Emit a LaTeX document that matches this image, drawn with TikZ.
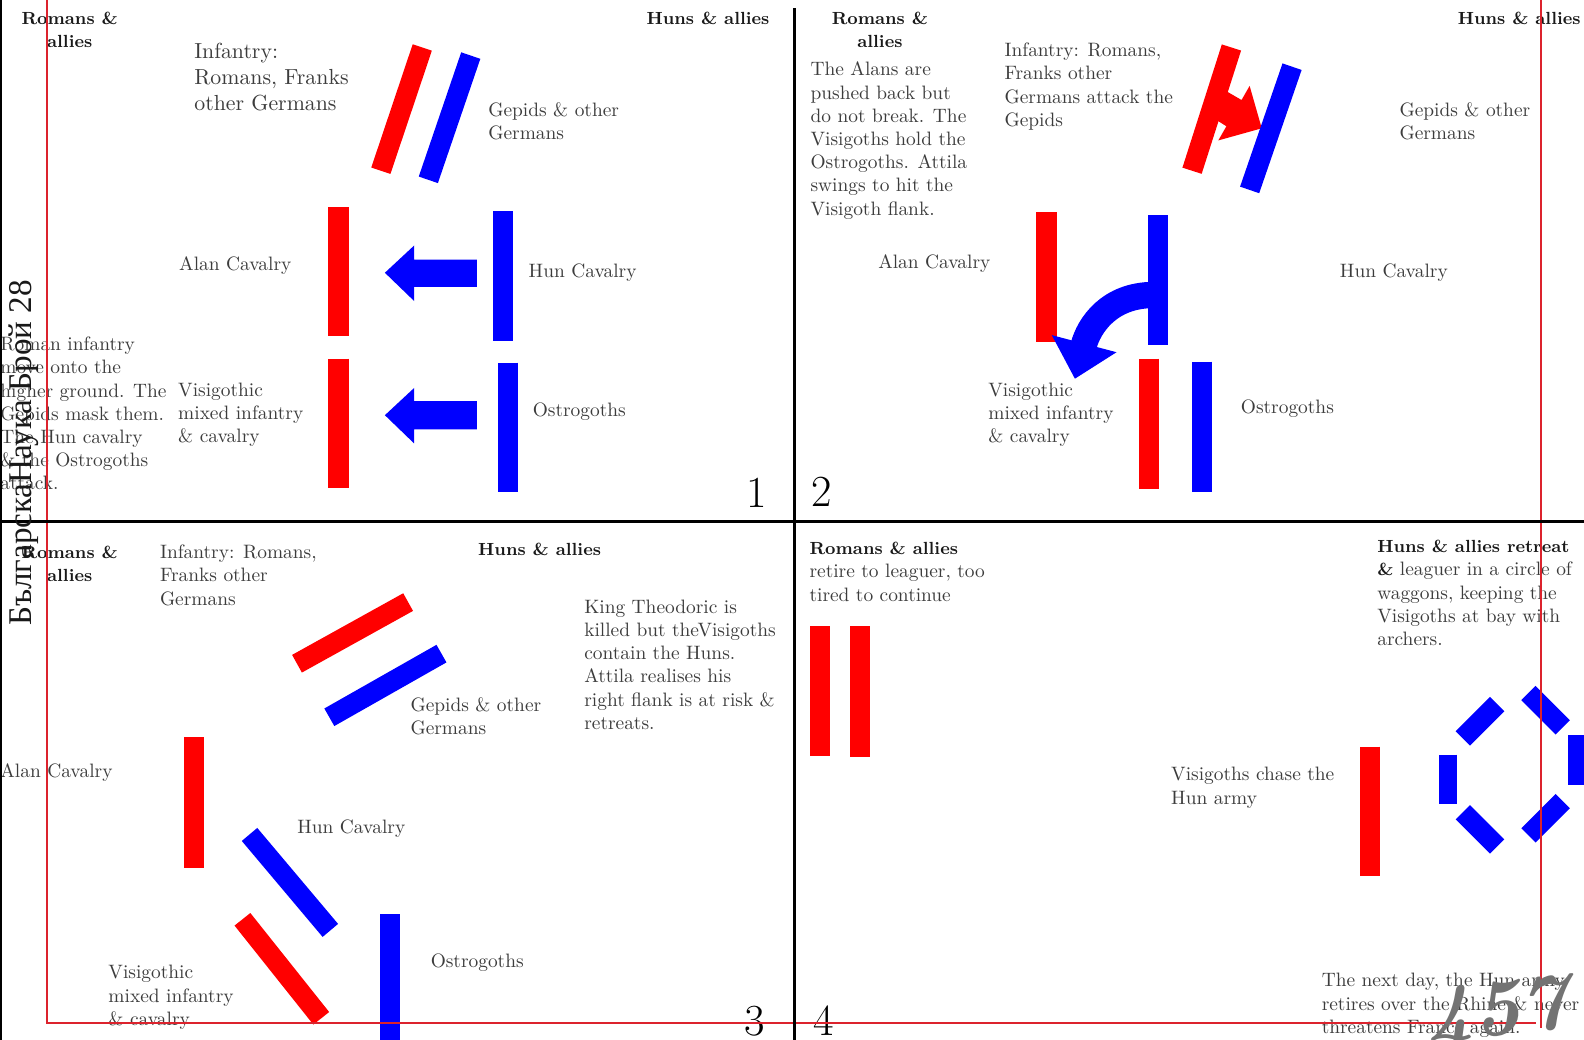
\documentclass[tikz,border=0pt]{standalone}
\usepackage{fontspec}
\newfontfamily\cyrfont{Liberation Serif}
\usetikzlibrary{arrows.meta}
\definecolor{bred}{RGB}{255,0,0}
\definecolor{bblue}{RGB}{0,0,255}
\definecolor{framered}{RGB}{220,35,45}
\definecolor{txt}{RGB}{60,60,60}
\definecolor{btxt}{RGB}{25,25,25}
\newcommand{\tl}[1]{\begin{tabular}[t]{@{}l@{}}#1\end{tabular}}
\newcommand{\tcc}[1]{\begin{tabular}[t]{@{}c@{}}#1\end{tabular}}
\newcommand{\bt}[1]{{\fontsize{8.7}{11.5}\selectfont\bfseries\color{btxt}#1}}
\tikzset{
  barline/.style={line width=10pt},
  redbar/.style={barline, draw=bred},
  bluebar/.style={barline, draw=bblue},
  lbl/.style={inner sep=0pt, anchor=base west, text=txt, font=\fontsize{9.6}{11.5}\selectfont},
  biglbl/.style={lbl, font=\fontsize{10.8}{12.75}\selectfont},
  blbl/.style={inner sep=0pt, text=btxt, font=\fontsize{8.7}{11.5}\selectfont\bfseries},
  bignum/.style={inner sep=0pt, text=black, font=\fontsize{22}{22}\selectfont},
  framered/.style={draw=framered, line width=1pt},
  divider/.style={draw=black, line width=1.5pt},
}
\begin{document}
\begin{tikzpicture}[x=0.5pt,y=-0.5pt]
\clip (0,0) rectangle (1568,1029);
\fill[white] (0,0) rectangle (1568,1029);

% ---------------- Panel 1 ----------------
\draw[redbar]  (418,47) -- (377,169);
\draw[bluebar] (466,55) -- (424,178);
\draw[redbar]  (335,205) -- (335,333);
\draw[bluebar] (498,209) -- (498,338);
\draw[redbar]  (335,355) -- (335,483);
\draw[bluebar] (503,359) -- (503,487);
\fill[bblue] (381,270) -- (410,243) -- (410,257) -- (472,257) -- (472,284) -- (410,284) -- (410,298) -- cycle;
\fill[bblue] (381,411) -- (410,384) -- (410,397) -- (472,397) -- (472,425) -- (410,425) -- (410,439) -- cycle;

\node[blbl, anchor=base] (p1ra) at (69,24) {\tcc{Romans \&\\allies}};
\node[blbl, anchor=base east] (p1ha) at (762,24) {Huns \& allies};
\node[biglbl] (p1inf) at (192,58) {\tl{Infantry:\\Romans, Franks\\other Germans}};
\node[lbl] (p1gep) at (483,115) {\tl{Gepids \& other\\Germans}};
\node[lbl] (p1alan) at (177,268) {Alan Cavalry};
\node[lbl] (p1hun) at (523,275) {Hun Cavalry};
\node[lbl] (p1vis) at (176,392) {\tl{Visigothic\\mixed infantry\\\& cavalry}};
\node[lbl] (p1ost) at (527,412) {Ostrogoths};
\node[lbl] (p1note) at (0,347) {\tl{Roman infantry\\move onto the\\higher ground. The\\Gepids mask them.\\The Hun cavalry\\\& the Ostrogoths\\attack.}};
\node[bignum, anchor=base east] (n1) at (760,502) {1};

% ---------------- Panel 2 ----------------
\fill[bred] (1195,113) -- (1214,125) -- (1206,139) -- (1249,127) -- (1237,85) -- (1229,99) -- (1210,88) -- cycle;
\draw[redbar]  (1219,47) -- (1180,169);
\draw[bluebar] (1279,66) -- (1237,188);
\draw[redbar]  (1036,210) -- (1036,339);
\draw[bblue, line width=13pt, -{Triangle[length=18pt,width=32pt]}] (1142,292) .. controls (1098,292) and (1078,322) .. (1064,375);
\draw[bluebar] (1146,213) -- (1146,342);
\draw[redbar]  (1137,355) -- (1137,484);
\draw[bluebar] (1190,358) -- (1190,487);

\node[blbl, anchor=base] (p2ra) at (871,24) {\tcc{Romans \&\\allies}};
\node[blbl, anchor=base east] (p2ha) at (1565,24) {Huns \& allies};
\node[lbl] (p2note) at (802,75) {\tl{The Alans are\\pushed back but\\do not break. The\\Visigoths hold the\\Ostrogoths. Attila\\swings to hit the\\Visigoth flank.}};
\node[lbl] (p2inf) at (994,56) {\tl{Infantry: Romans,\\Franks other\\Germans attack the\\Gepids}};
\node[lbl] (p2gep) at (1385,115) {\tl{Gepids \& other\\Germans}};
\node[lbl] (p2alan) at (869,266) {Alan Cavalry};
\node[lbl] (p2hun) at (1326,275) {Hun Cavalry};
\node[lbl] (p2vis) at (978,392) {\tl{Visigothic\\mixed infantry\\\& cavalry}};
\node[lbl] (p2ost) at (1228,409) {Ostrogoths};
\node[bignum, anchor=base west] (n2) at (803,501) {2};

% ---------------- Panel 3 ----------------
\draw[redbar]  (294,657) -- (404,596);
\draw[bluebar] (326,710) -- (437,647);
\draw[redbar]  (192,730) -- (192,859);
\draw[bluebar] (247,826) -- (327,921);
\draw[redbar]  (240,910) -- (318,1008);
\draw[bluebar] (386,905) -- (386,1035);

\node[blbl, anchor=base] (p3ra) at (69,553) {\tcc{Romans \&\\allies}};
\node[lbl] (p3inf) at (158,553) {\tl{Infantry: Romans,\\Franks other\\Germans}};
\node[blbl, anchor=base west] (p3ha) at (473,550) {Huns \& allies};
\node[lbl] (p3gep) at (406,704) {\tl{Gepids \& other\\Germans}};
\node[lbl] (p3note) at (578,607) {\tl{King Theodoric is\\killed but theVisigoths\\contain the Huns.\\Attila realises his\\right flank is at risk \&\\retreats.}};
\node[lbl] (p3alan) at (0,770) {Alan Cavalry};
\node[lbl] (p3hun) at (294,825) {Hun Cavalry};
\node[lbl] (p3ost) at (426,958) {Ostrogoths};
\node[lbl] (p3vis) at (107,969) {\tl{Visigothic\\mixed infantry\\\& cavalry}};
\node[bignum, anchor=base east] (n3) at (758,1025) {3};

% ---------------- Panel 4 ----------------
\draw[redbar] (812,620) -- (812,748);
\draw[redbar] (851,620) -- (851,749);
\draw[redbar] (1356,739) -- (1356,867);
\draw[bluebar] (1448,731) -- (1482,697);
\draw[bluebar] (1513,686) -- (1547,720);
\draw[bluebar] (1562,728) -- (1562,777);
\draw[bblue, line width=9pt] (1433,747) -- (1433,796);
\draw[bluebar] (1448,804) -- (1482,838);
\draw[bluebar] (1513,827) -- (1547,793);

\node[lbl] (p4ro) at (801,549) {\tl{\bt{Romans \& allies}\\retire to leaguer, too\\tired to continue}};
\node[lbl] (p4hu) at (1363,547) {\tl{\bt{Huns \& allies retreat}\\\bt{\&} leaguer in a circle of\\waggons, keeping the\\Visigoths at bay with\\archers.}};
\node[lbl] (p4vis) at (1159,773) {\tl{Visigoths chase the\\Hun army}};
\node[lbl] (p4next) at (1308,977) {\tl{The next day, the Hun army\\retires over the Rhine \& never\\threatens France again.}};
\node[bignum, anchor=base west] (n4) at (805,1025) {4};

% ---------------- frame lines ----------------
\draw[framered] (47,0) -- (47,1013) -- (1520,1013);
\draw[framered] (1525,0) -- (1525,1018);
\draw[divider] (786,8) -- (786,1029);
\draw[divider] (0,516) -- (1568,516);
\draw[draw=black, line width=1pt] (1,0) -- (1,1029);

% ---------------- overlays ----------------
\node[inner sep=0pt, rotate=90, anchor=base west, text=black!90, font=\cyrfont\fontsize{16.4}{18}\selectfont] (vtext) at (31,620) {БългарскаНаука Брой 28};
\node[inner sep=0pt, rotate=6, text=black!55, font=\fontsize{40}{40}\selectfont\itshape\bfseries] (year) at (1482,1006) {457};
\end{tikzpicture}
\end{document}
